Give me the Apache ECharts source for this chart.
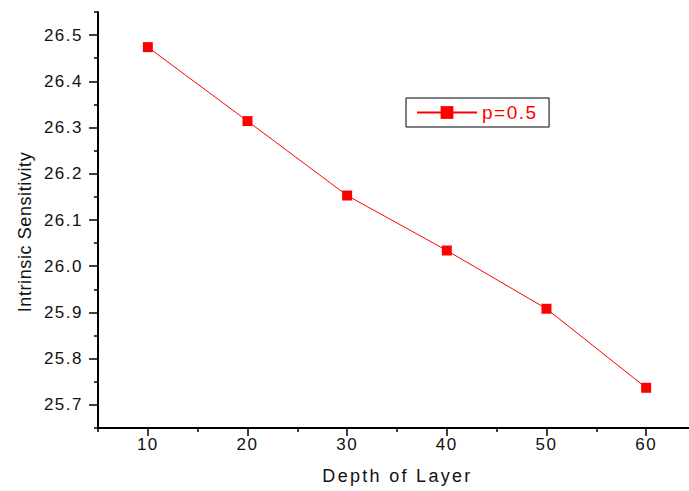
<!DOCTYPE html>
<html>
<head>
<meta charset="utf-8">
<script src="https://cdn.jsdelivr.net/npm/echarts@6/dist/echarts.min.js"></script>
<style>
  html, body { margin: 0; padding: 0; background: #fff; }
  #chart { width: 689px; height: 491px; }
</style>
</head>
<body>
<div id="chart"></div>
<script>
// Depth of layer vs. intrinsic sensitivity, p = 0.5
const depth = [10, 20, 30, 40, 50, 60];
const sensitivity = [26.474, 26.314, 26.153, 26.034, 25.908, 25.737];
const seriesName = 'p=0.5';

// Tick positions (major ticks are labelled)
const xMajorTicks = [10, 20, 30, 40, 50, 60];
const xMinorTicks = [5, 15, 25, 35, 45, 55];
const yMajorTicks = [25.7, 25.8, 25.9, 26.0, 26.1, 26.2, 26.3, 26.4, 26.5];
const yMinorTicks = [25.65, 25.75, 25.85, 25.95, 26.05, 26.15, 26.25, 26.35, 26.45, 26.55];

const FONT = 'Arial, "Liberation Sans", sans-serif';
const AXIS = '#000';

const chart = echarts.init(document.getElementById('chart'), null, { renderer: 'svg' });

chart.setOption({
  animation: false,
  backgroundColor: '#fff',
  grid: { left: 98, right: 0, top: 12, bottom: 63, containLabel: false },
  legend: {
    data: [seriesName],
    left: 406,
    top: 98,
    orient: 'horizontal',
    backgroundColor: '#fff',
    borderColor: '#000',
    borderWidth: 1,
    padding: [5, 19, 5, 10],
    itemWidth: 60,
    itemHeight: 16,
    itemGap: 6,
    textStyle: { color: '#ff0000', fontSize: 19, fontFamily: FONT },
    selectedMode: false
  },
  xAxis: [
    {
      type: 'value', min: 5, max: 64.3,
      name: 'Depth of Layer', nameLocation: 'middle', nameGap: 39,
      nameTextStyle: { fontSize: 18, fontFamily: FONT, color: '#111', padding: [0, 0, 0, 8] },
      axisLine: { show: true, onZero: false, lineStyle: { color: AXIS, width: 2 } },
      axisTick: { show: true, inside: false, length: 8, customValues: xMajorTicks, lineStyle: { color: AXIS, width: 1.5 } },
      axisLabel: { show: true, customValues: xMajorTicks, margin: 8, fontSize: 17, fontFamily: FONT, color: '#111' },
      splitLine: { show: false }
    },
    {
      type: 'value', min: 5, max: 64.3, position: 'bottom',
      axisLine: { show: false },
      axisTick: { show: true, inside: false, length: 4, customValues: xMinorTicks, lineStyle: { color: AXIS, width: 1.5 } },
      axisLabel: { show: false },
      splitLine: { show: false }
    }
  ],
  yAxis: [
    {
      type: 'value', min: 25.65, max: 26.55,
      name: 'Intrinsic Sensitivity', nameLocation: 'middle', nameGap: 64,
      nameTextStyle: { fontSize: 18, fontFamily: FONT, color: '#111', padding: [0, 24, 0, 0] },
      axisLine: { show: true, onZero: false, lineStyle: { color: AXIS, width: 2 } },
      axisTick: { show: true, inside: false, length: 9, customValues: yMajorTicks, lineStyle: { color: AXIS, width: 1.5 } },
      axisLabel: {
        show: true, customValues: yMajorTicks, margin: 15, fontSize: 17, fontFamily: FONT, color: '#111',
        formatter: v => v.toFixed(1)
      },
      splitLine: { show: false }
    },
    {
      type: 'value', min: 25.65, max: 26.55, position: 'left',
      axisLine: { show: false },
      axisTick: { show: true, inside: false, length: 4, customValues: yMinorTicks, lineStyle: { color: AXIS, width: 1.5 } },
      axisLabel: { show: false },
      splitLine: { show: false }
    }
  ],
  series: [
    {
      name: seriesName,
      type: 'line',
      xAxisIndex: 0,
      yAxisIndex: 0,
      data: depth.map((d, i) => [d, sensitivity[i]]),
      symbol: 'rect',
      symbolSize: 10,
      itemStyle: { color: '#ff0000' },
      lineStyle: { color: '#ff0000', width: 1 },
      emphasis: { disabled: true }
    }
  ]
});

// Wider character spacing for the axis and legend text
function spaceText() {
  document.querySelectorAll('#chart svg text').forEach(t => {
    const s = t.textContent;
    let ls = 1.5;
    if (s === 'Depth of Layer') ls = 2.3;
    else if (s === 'Intrinsic Sensitivity') ls = 0.6;
    else if (s === seriesName) ls = 1.5;
    t.setAttribute('letter-spacing', ls + 'px');
  });
}
spaceText();
chart.on('finished', spaceText);
</script>
</body>
</html>
